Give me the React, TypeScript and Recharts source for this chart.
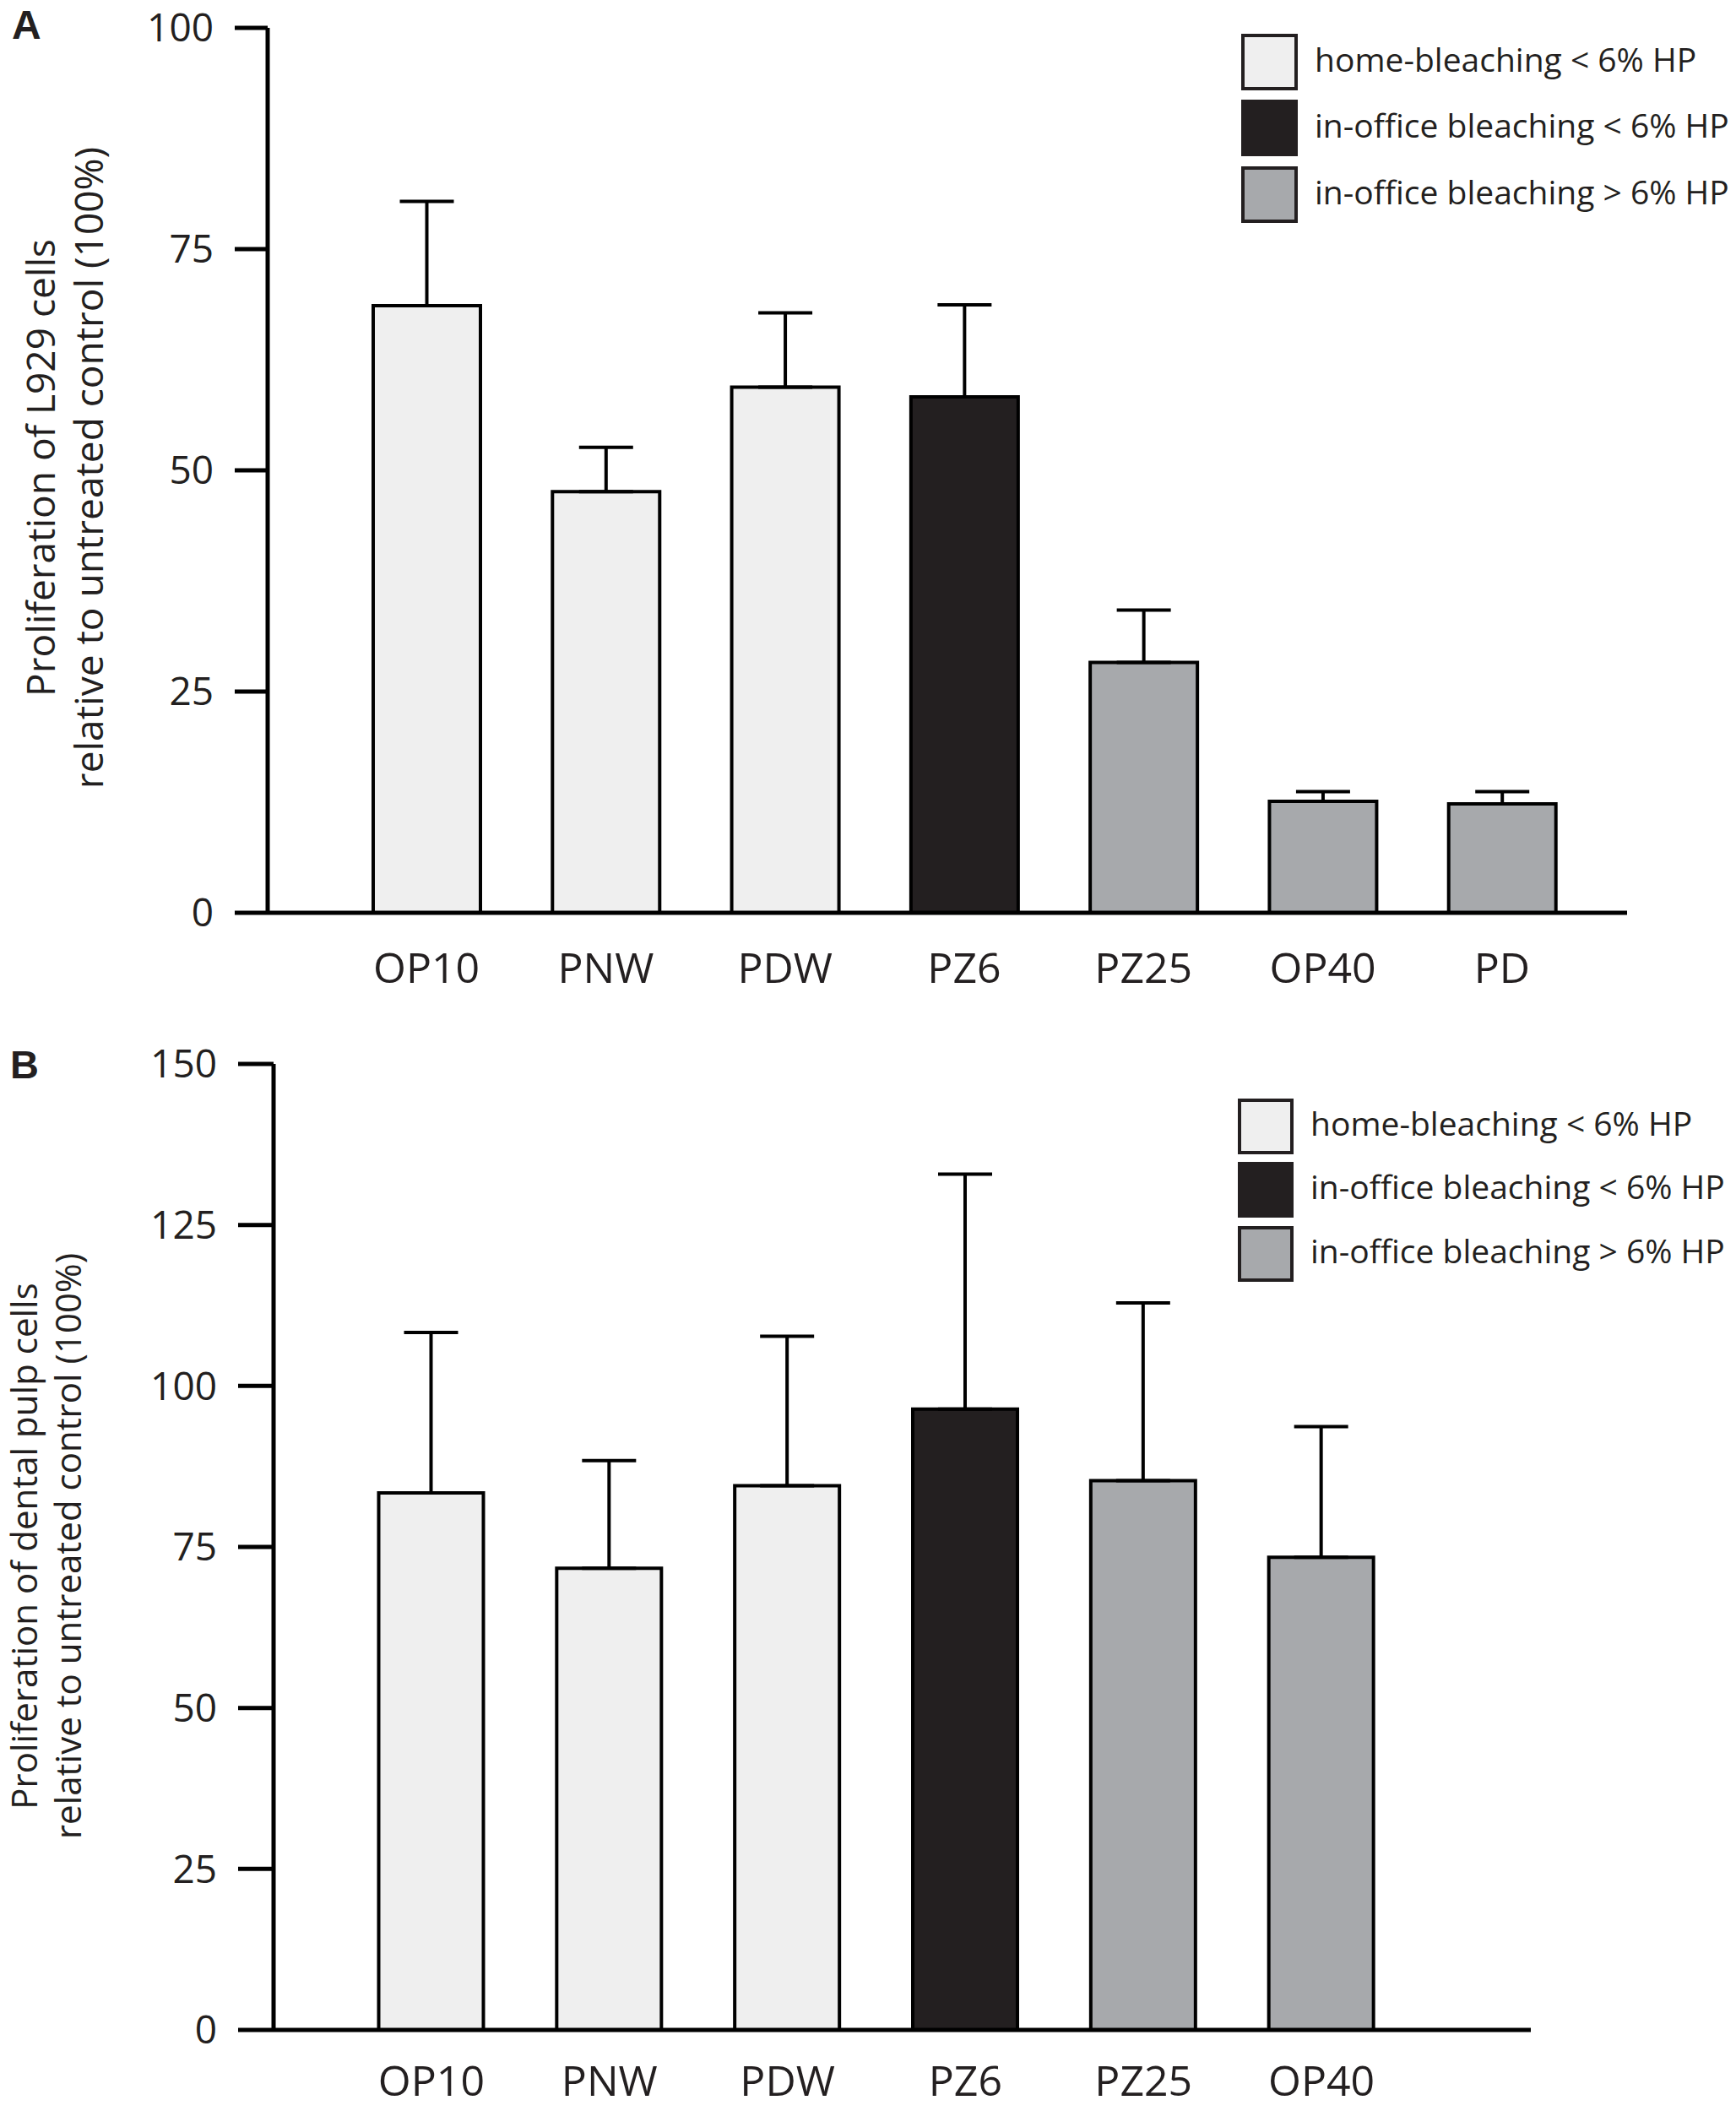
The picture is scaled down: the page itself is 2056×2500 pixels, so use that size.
import React from 'react';
import { BarChart, Bar, XAxis, YAxis, Cell, ErrorBar, Legend } from 'recharts';

// ---------- data ----------
const categoriesA = ['OP10', 'PNW', 'PDW', 'PZ6', 'PZ25', 'OP40', 'PD'];
const meansA = [68.6, 47.6, 59.4, 58.3, 28.3, 12.6, 12.3];
const sdA = [11.8, 5.0, 8.4, 10.4, 5.9, 1.1, 1.4];
const groupsA = [0, 0, 0, 1, 2, 2, 2];
const ticksA = [0, 25, 50, 75, 100];

const categoriesB = ['OP10', 'PNW', 'PDW', 'PZ6', 'PZ25', 'OP40'];
const meansB = [83.4, 71.7, 84.5, 96.4, 85.3, 73.4];
const sdB = [24.9, 16.7, 23.2, 36.5, 27.6, 20.3];
const groupsB = [0, 0, 0, 1, 2, 2];
const ticksB = [0, 25, 50, 75, 100, 125, 150];

const groupLabels = [
  'home-bleaching < 6% HP',
  'in-office bleaching < 6% HP',
  'in-office bleaching > 6% HP',
];
const groupColors = ['#efefef', '#231f20', '#a7a9ac'];

const titleA = ['Proliferation of L929 cells', 'relative to untreated control (100%)'];
const titleB = ['Proliferation of dental pulp cells', 'relative to untreated control (100%)'];

const dataA = categoriesA.map((name, i) => ({ name, value: meansA[i], err: [0, sdA[i]], group: groupsA[i] }));
const dataB = categoriesB.map((name, i) => ({ name, value: meansB[i], err: [0, sdB[i]], group: groupsB[i] }));

const FONT = "'Open Sans', 'Noto Sans', sans-serif";
const INK = '#231f20';

const makeXTick = (offset: number) => (props: any) => {
  const { x, y, payload } = props;
  return (
    <text x={x} y={y + offset} textAnchor="middle" fontSize={50} fontFamily={FONT} fill={INK}>
      {payload.value}
    </text>
  );
};
const XTickA = makeXTick(83);
const XTickB = makeXTick(78);

const makeTitle = (letter: string, letterX: number, letterY: number, letterSize: number,
  lines: string[], x1: number, x2: number, cy: number, size: number) => () => (
  <g>
    <text x={letterX} y={letterY} fontSize={letterSize} fontWeight="bold" fontFamily="'Liberation Sans', Arial, sans-serif" fill={INK}>
      {letter}
    </text>
    <text transform={`translate(${x1},${cy}) rotate(-90)`} textAnchor="middle" fontSize={size} fontFamily={FONT} fill={INK}>
      {lines[0]}
    </text>
    <text transform={`translate(${x2},${cy}) rotate(-90)`} textAnchor="middle" fontSize={size} fontFamily={FONT} fill={INK}>
      {lines[1]}
    </text>
  </g>
);

const makeLegend = (bx: number, bw: number, tops: number[], tx: number) => () => (
  <svg width={2056} height={330} style={{ display: 'block' }}>
    {groupLabels.map((label, i) => (
      <g key={label}>
        <rect x={bx} y={tops[i]} width={bw} height={bw} fill={groupColors[i]} stroke={INK} strokeWidth={4} />
        <text x={tx} y={tops[i] + bw / 2 + 11} fontSize={39} fontFamily={FONT} fill={INK}>
          {label}
        </text>
      </g>
    ))}
  </svg>
);

const axisStyle = { stroke: '#000', strokeWidth: 5 };

export default function App() {
  return (
    <div style={{ position: 'absolute', left: 0, top: 0, width: 2056, height: 2500, background: '#fff' }}>
      <div style={{ position: 'absolute', left: 0, top: 0 }}>
        <BarChart width={2056} height={1230} data={dataA} margin={{ top: 33, right: 129, bottom: 0, left: 0 }}>
          <XAxis
            dataKey="name"
            height={149}
            padding={{ left: 82, right: 42 }}
            tickLine={false}
            tickSize={0}
            tickMargin={0}
            axisLine={axisStyle}
            tick={<XTickA />}
            interval={0}
          />
          <YAxis
            width={317}
            domain={[0, 100]}
            ticks={ticksA}
            interval={0}
            tickSize={39}
            tickMargin={25}
            axisLine={axisStyle}
            tickLine={axisStyle}
            tick={{ fontSize: 46, fill: INK, fontFamily: FONT }}
            label={{ content: makeTitle('A', 14, 46, 48, titleA, 65, 122, 554, 46) }}
          />
          <Bar dataKey="value" barSize={127} stroke="#000" strokeWidth={4} isAnimationActive={false}>
            {dataA.map((d, i) => (
              <Cell key={i} fill={groupColors[d.group]} />
            ))}
            <ErrorBar dataKey="err" direction="y" width={32} stroke="#000" strokeWidth={4} isAnimationActive={false} />
          </Bar>
          <Legend
            layout="vertical"
            align="center"
            verticalAlign="middle"
            wrapperStyle={{ left: 0, top: 0, width: 2056, height: 330 }}
            content={makeLegend(1472, 63, [42, 120, 199], 1557)}
          />
        </BarChart>
      </div>
      <div style={{ position: 'absolute', left: 0, top: 1215 }}>
        <BarChart width={2056} height={1285} data={dataB} margin={{ top: 45, right: 243, bottom: 0, left: 0 }}>
          <XAxis
            dataKey="name"
            height={96}
            padding={{ left: 81.5, right: 142.5 }}
            tickLine={false}
            tickSize={0}
            tickMargin={0}
            axisLine={axisStyle}
            tick={<XTickB />}
            interval={0}
          />
          <YAxis
            width={324}
            domain={[0, 150]}
            ticks={ticksB}
            interval={0}
            tickSize={42}
            tickMargin={25}
            axisLine={axisStyle}
            tickLine={axisStyle}
            tick={{ fontSize: 46, fill: INK, fontFamily: FONT }}
            label={{ content: makeTitle('B', 12, 62, 47, titleB, 44, 96, 616, 42) }}
          />
          <Bar dataKey="value" barSize={124} stroke="#000" strokeWidth={4} isAnimationActive={false}>
            {dataB.map((d, i) => (
              <Cell key={i} fill={groupColors[d.group]} />
            ))}
            <ErrorBar dataKey="err" direction="y" width={32} stroke="#000" strokeWidth={4} isAnimationActive={false} />
          </Bar>
          <Legend
            layout="vertical"
            align="center"
            verticalAlign="middle"
            wrapperStyle={{ left: 0, top: 0, width: 2056, height: 330 }}
            content={makeLegend(1468, 62, [88, 163, 239], 1552)}
          />
        </BarChart>
      </div>
    </div>
  );
}
